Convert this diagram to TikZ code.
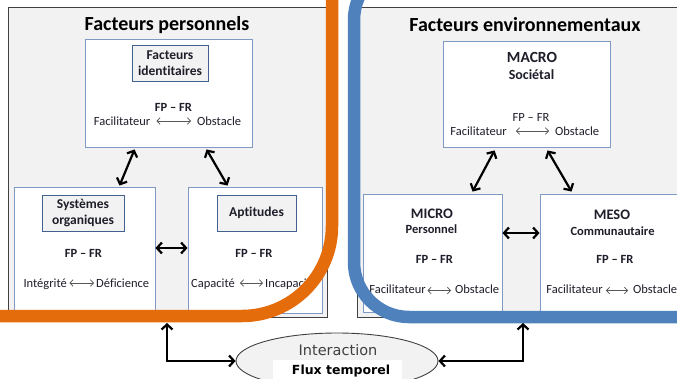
\documentclass[tikz,border=0pt]{standalone}
\usepackage{fontspec}
\setmainfont{Carlito}[Ligatures=NoCommon]
\newfontfamily\dvsans{DejaVu Sans}
\usetikzlibrary{arrows.meta,shapes.geometric}
\definecolor{orng}{HTML}{E46C0A}
\definecolor{blu}{HTML}{4F81BD}
\definecolor{pgrey}{HTML}{F2F2F2}
\definecolor{pborder}{HTML}{404040}
\definecolor{bxborder}{HTML}{7F9AC2}
\definecolor{tborder}{HTML}{41618F}
\definecolor{txt}{HTML}{1E1E2A}
\definecolor{sarrow}{HTML}{595959}
\begin{document}
\begin{tikzpicture}[x=1pt,y=-1pt,
 panel/.style={draw=pborder,fill=pgrey,line width=0.9pt},
 wbox/.style={draw=bxborder,fill=white,line width=0.9pt,inner sep=0pt,rectangle},
 tbox/.style={draw=tborder,fill=pgrey,line width=1pt,inner sep=0pt,align=center,text=txt,font=\fontsize{13.5}{16.5}\selectfont\bfseries},
 ttl/.style={font=\fontsize{20}{24}\selectfont\bfseries,inner sep=0pt,anchor=base},
 bt/.style={font=\fontsize{12.5}{14}\selectfont\bfseries,text=txt,inner sep=0pt},
 rt/.style={font=\fontsize{12.5}{14}\selectfont,text=txt,inner sep=0pt},
 bigt/.style={font=\fontsize{15.5}{18}\selectfont\bfseries,text=txt,inner sep=0pt,anchor=base},
 bigarrow/.style={{Straight Barb[length=5pt,width=11pt]}-{Straight Barb[length=5pt,width=11pt]},line width=2.2pt,black},
 smallarrow/.style={{Straight Barb[length=3pt,width=6.5pt]}-{Straight Barb[length=3pt,width=6.5pt]},line width=0.8pt,sarrow},
 band/.style={line width=12.5pt}
]
\useasboundingbox (0,0) rectangle (677,378);
\clip (0,0) rectangle (677,378);

% panels
\path[panel] (8,7) rectangle (327,317);
\path[panel] (357,7) rectangle (690,317);
\node[ttl] (t1) at (167,30) {Facteurs personnels};
\node[ttl] (t2) at (525,31) {Facteurs environnementaux};

% left boxes
\node[wbox,minimum width=167,minimum height=108] (fi) at (168.5,93) {};
\node[wbox,minimum width=141,minimum height=126] (so) at (84.5,250) {};
\node[wbox,minimum width=134,minimum height=126] (ap) at (255,250) {};
\node[tbox,minimum width=76,minimum height=36] (fit) at (170,63) {Facteurs\\identitaires};
\node[tbox,minimum width=82,minimum height=36] (sot) at (83,213) {Systèmes\\organiques};
\node[tbox,minimum width=79,minimum height=36] (apt) at (256.5,213) {Aptitudes};

\node[bt,anchor=base] (fp1) at (173.5,111) {FP – FR};
\node[rt,anchor=base east] (f1) at (150.5,125) {Facilitateur};
\node[rt,anchor=base west] (o1) at (197,125) {Obstacle};
\draw[smallarrow] ([xshift=6pt,yshift=4pt]f1.base east) -- ([xshift=-6pt,yshift=4pt]o1.base west);

\node[bt,anchor=base] (fp2) at (83.5,257) {FP – FR};
\node[rt,anchor=base east] (f2) at (67,287) {Intégrité};
\node[rt,anchor=base west] (o2) at (96,287) {Déficience};
\draw[smallarrow] ([xshift=2.5pt,yshift=4pt]f2.base east) -- ([xshift=-2pt,yshift=4pt]o2.base west);

\node[bt,anchor=base] (fp3) at (254,257) {FP – FR};
\node[rt,anchor=base east] (f3) at (235,287) {Capacité};
\node[rt,anchor=base west] (o3) at (265,287) {Incapacité};
\draw[smallarrow] ([xshift=5pt,yshift=4pt]f3.base east) -- ([xshift=-2pt,yshift=4pt]o3.base west);

\draw[bigarrow] ([xshift=50pt,yshift=-2pt]fi.south west) -- ([xshift=106pt,yshift=1pt]so.north west);
\draw[bigarrow] ([xshift=122pt,yshift=-2pt]fi.south west) -- ([xshift=40pt,yshift=1pt]ap.north west);
\draw[bigarrow] ([yshift=2pt]so.east) -- ([yshift=2pt]ap.west);

% right boxes
\node[wbox,minimum width=167,minimum height=106] (ma) at (526.5,94) {};
\node[wbox,minimum width=139,minimum height=118] (mi) at (432.5,253) {};
\node[wbox,minimum width=160,minimum height=118] (me) at (620,253) {};

\node[bigt] (mat) at (532,62) {MACRO};
\node[bt,anchor=base,font=\fontsize{14}{16}\selectfont\bfseries] (mas) at (531.5,79) {Sociétal};
\node[rt,anchor=base] (fp4) at (531,121) {FP – FR};
\node[rt,anchor=base east] (f4) at (507,135) {Facilitateur};
\node[rt,anchor=base west] (o4) at (555,135) {Obstacle};
\draw[smallarrow] ([xshift=9pt,yshift=4pt]f4.base east) -- ([xshift=-6pt,yshift=4pt]o4.base west);

\node[bigt,font=\fontsize{14.5}{17}\selectfont\bfseries] (mit) at (432,218) {MICRO};
\node[bt,anchor=base] (mis) at (431.5,233) {Personnel};
\node[bt,anchor=base] (fp5) at (434.5,263) {FP – FR};
\node[rt,anchor=base east] (f5) at (426,293) {Facilitateur};
\node[rt,anchor=base west] (o5) at (455,293) {Obstacle};
\draw[smallarrow] ([xshift=1.5pt,yshift=2.5pt]f5.base east) -- ([xshift=-4pt,yshift=2.5pt]o5.base west);

\node[bigt,font=\fontsize{14.5}{17}\selectfont\bfseries] (met) at (612,219) {MESO};
\node[bt,anchor=base] (mes) at (612.5,235) {Communautaire};
\node[bt,anchor=base] (fp6) at (615,263) {FP – FR};
\node[rt,anchor=base east] (f6) at (603,293) {Facilitateur};
\node[rt,anchor=base west] (o6) at (633,293) {Obstacle};
\draw[smallarrow] ([xshift=3pt,yshift=2.5pt]f6.base east) -- ([xshift=-5pt,yshift=2.5pt]o6.base west);

\draw[bigarrow] ([xshift=52pt,yshift=-3pt]ma.south west) -- ([xshift=110pt,yshift=2pt]mi.north west);
\draw[bigarrow] ([xshift=105pt,yshift=-3pt]ma.south west) -- ([xshift=32pt,yshift=2pt]me.north west);
\draw[bigarrow] ([yshift=20pt]mi.east) -- ([yshift=20pt]me.west);

% bands
\draw[band,orng,rounded corners=90pt] (332,-30) -- (332,316) -- (-30,316);
\draw[band,blu,rounded corners=55pt] (720,317) -- (354,317) -- (354,-35) -- (720,-35);

% interaction
\node[ellipse,draw=pborder,fill=pgrey,line width=0.9pt,minimum width=202,minimum height=56,inner sep=0pt] (el) at (337,361) {};
\node[font=\dvsans\fontsize{14.5}{16}\selectfont,text=pborder,inner sep=0pt,anchor=base] (int) at (338,355) {Interaction};
\node[fill=white,minimum width=129,minimum height=24,inner sep=0pt,anchor=north] (fxb) at (337.5,360) {};
\node[font=\dvsans\bfseries\fontsize{12.5}{14}\selectfont,inner sep=0pt,anchor=base] (fx) at (341,374) {Flux temporel};

\coordinate (lt) at (167,323);
\coordinate (rtc) at (523,323);
\draw[bigarrow] (lt) |- (el.west);
\draw[bigarrow] (rtc) |- (el.east);
\end{tikzpicture}
\end{document}
